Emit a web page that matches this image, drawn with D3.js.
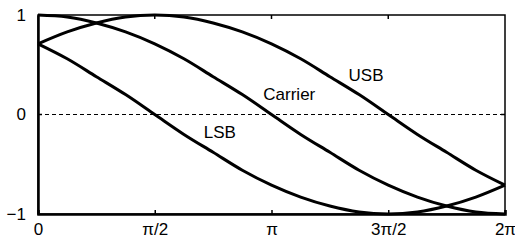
<!DOCTYPE html>
<html>
<head>
<meta charset="utf-8">
<script src="https://cdn.jsdelivr.net/npm/d3@7"></script>
<style>
  body { margin: 0; background: #fff; }
  text { font-family: "Liberation Sans", Arial, sans-serif; font-size: 17px; fill: #000; }
</style>
</head>
<body>
<div class="chart"></div>
<script>
// phase in units of pi, every pi/8
const phase = [0, 0.125, 0.25, 0.375, 0.5, 0.625, 0.75, 0.875, 1, 1.125, 1.25, 1.375, 1.5, 1.625, 1.75, 1.875, 2];
const carrier = [1, 0.98, 0.92, 0.83, 0.71, 0.56, 0.38, 0.2, 0, -0.2, -0.38, -0.56, -0.71, -0.83, -0.92, -0.98, -1];
const usb = [0.71, 0.83, 0.92, 0.98, 1, 0.98, 0.92, 0.83, 0.71, 0.56, 0.38, 0.2, 0, -0.2, -0.38, -0.56, -0.71];
const lsb = [0.71, 0.56, 0.38, 0.2, 0, -0.2, -0.38, -0.56, -0.71, -0.83, -0.92, -0.98, -1, -0.98, -0.92, -0.83, -0.71];
const xTicks = [0, 0.5, 1, 1.5, 2];
const xTickLabels = ["0", "π/2", "π", "3π/2", "2π"];
const yTicks = [-1, 0, 1];
const yTickLabels = ["−1", "0", "1"];
const labels = [
  {name: "Carrier", x: 0.965, y: 0.21},
  {name: "USB", x: 1.33, y: 0.40},
  {name: "LSB", x: 0.71, y: -0.18}
];

const margin = {top: 15, left: 38, bottom: 26, right: 10};
const width = 515 - margin.left - margin.right;
const height = 240 - margin.top - margin.bottom;

const svg = d3.select('.chart').append('svg')
    .attr('width', 515)
    .attr('height', 240)
  .append('g')
    .attr('transform', `translate(${margin.left},${margin.top})`);

const xScale = d3.scaleLinear().domain([0, 2]).range([0, width]);
const yScale = d3.scaleLinear().domain([-1, 1]).range([height, 0]);

// dashed zero line
svg.append('line')
    .attr('x1', 0).attr('x2', width)
    .attr('y1', yScale(0)).attr('y2', yScale(0))
    .attr('stroke', '#000')
    .attr('stroke-width', 1)
    .attr('stroke-dasharray', '4,3');

const line = d3.line()
    .x((d, i) => xScale(phase[i]))
    .y(d => yScale(d))
    .curve(d3.curveCatmullRom);

[carrier, usb, lsb].forEach(s => {
  svg.append('path')
      .datum(s)
      .attr('d', line)
      .attr('fill', 'none')
      .attr('stroke', '#000')
      .attr('stroke-width', 3);
});

// frame: thin top/right, heavier left/bottom
svg.append('rect')
    .attr('width', width).attr('height', height)
    .attr('fill', 'none').attr('stroke', '#000').attr('stroke-width', 1.5);

const xAxis = d3.axisBottom(xScale)
    .tickValues(xTicks)
    .tickSize(-4)
    .tickFormat((d, i) => xTickLabels[i]);
const gx = svg.append('g')
    .attr('transform', `translate(0,${height})`)
    .call(xAxis);
gx.select('.domain').attr('stroke-width', 2.5);
gx.selectAll('.tick line').attr('stroke-width', 1.5);
gx.selectAll('text').attr('dy', null).attr('y', 21).style('font-size', '17px').style('font-family', 'Liberation Sans, Arial, sans-serif');

// top ticks
svg.selectAll('.ttick').data(xTicks.slice(1, 4)).enter().append('line')
    .attr('x1', d => xScale(d)).attr('x2', d => xScale(d))
    .attr('y1', 0).attr('y2', 4)
    .attr('stroke', '#000').attr('stroke-width', 1.5);

// inner ticks at y = 0, left and right
svg.selectAll('.rtick').data([0, width]).enter().append('line')
    .attr('x1', d => d).attr('x2', (d, i) => i ? d - 4 : d + 4)
    .attr('y1', yScale(0)).attr('y2', yScale(0))
    .attr('stroke', '#000').attr('stroke-width', 1.5);

const yAxis = d3.axisLeft(yScale)
    .tickValues(yTicks)
    .tickSize(0)
    .tickPadding(12)
    .tickFormat((d, i) => yTickLabels[i]);
const gy = svg.append('g').call(yAxis);
gy.select('.domain').attr('stroke-width', 2.5);
gy.selectAll('text').style('font-size', '17px').style('font-family', 'Liberation Sans, Arial, sans-serif');

svg.selectAll('.lab').data(labels).enter().append('text')
    .attr('x', d => xScale(d.x))
    .attr('y', d => yScale(d.y))
    .attr('dy', '0.35em')
    .text(d => d.name);
</script>
</body>
</html>
